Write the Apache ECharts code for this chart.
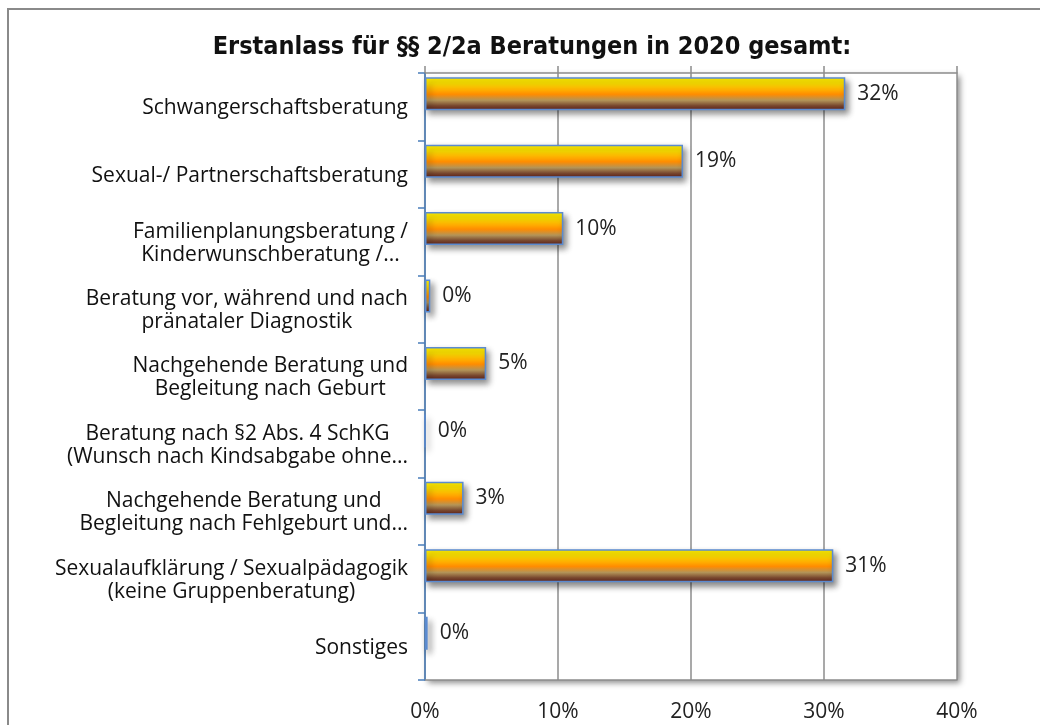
<!DOCTYPE html>
<html>
<head>
<meta charset="utf-8">
<script src="https://cdn.jsdelivr.net/npm/echarts@6/dist/echarts.min.js"></script>
<style>
  html, body { margin: 0; padding: 0; background: #fff; }
  #main { width: 1040px; height: 725px; }
</style>
</head>
<body>
<div id="main"></div>
<script>
// Kategorien (von oben nach unten)
var categories = [
  'Schwangerschaftsberatung',
  'Sexual-/ Partnerschaftsberatung',
  'Familienplanungsberatung /\nKinderwunschberatung /...',
  'Beratung vor, während und nach\npränataler Diagnostik',
  'Nachgehende Beratung und\nBegleitung nach Geburt',
  'Beratung nach §2 Abs. 4 SchKG\n(Wunsch nach Kindsabgabe ohne...',
  'Nachgehende Beratung und\nBegleitung nach Fehlgeburt und...',
  'Sexualaufklärung / Sexualpädagogik\n(keine Gruppenberatung)',
  'Sonstiges'
]
// Anteile in Prozent
var values = [31.6, 19.4, 10.4, 0.4, 4.6, 0, 2.9, 30.7, 0.2]
var xTicks = { min: 0, max: 40, interval: 10 }

var myChart = echarts.init(document.getElementById('main'))

var barGradient = new echarts.graphic.LinearGradient(0, 0, 0, 1, [
  { offset: 0, color: '#fff000' },
  { offset: 0.2, color: '#ffe000' },
  { offset: 0.36, color: '#ffb400' },
  { offset: 0.52, color: '#ff8c00' },
  { offset: 0.7, color: '#b39458' },
  { offset: 0.86, color: '#7a4a30' },
  { offset: 1, color: '#5c1e18' }
])

var option = {
  animation: false,
  textStyle: { fontFamily: 'Open Sans' },
  title: {
    text: 'Erstanlass für §§ 2/2a Beratungen in 2020 gesamt:',
    left: 527,
    textAlign: 'center',
    top: 30,
    textStyle: {
      fontFamily: "'DejaVu Sans Condensed', 'Roboto Condensed', 'Open Sans'",
      fontWeight: 'bold',
      fontSize: 25,
      color: '#111'
    }
  },
  graphic: [{
    type: 'rect',
    shape: { x: 8, y: 9, width: 1100, height: 800 },
    style: { fill: 'none', stroke: '#8a8a8a', lineWidth: 2 },
    z: 100
  }],
  grid: {
    left: 425,
    right: 83,
    top: 73,
    bottom: 45,
    show: true,
    borderWidth: 0,
    backgroundColor: '#fff',
    shadowColor: 'rgba(0,0,0,0.45)',
    shadowBlur: 6,
    shadowOffsetX: 3,
    shadowOffsetY: 3
  },
  xAxis: [
    {
      type: 'value',
      min: xTicks.min,
      max: xTicks.max,
      interval: xTicks.interval,
      axisLine: { show: true, lineStyle: { color: '#8c8c8c', width: 1.5 } },
      axisTick: { show: false },
      splitLine: { lineStyle: { color: '#8c8c8c', width: 1.5 } },
      axisLabel: { formatter: '{value}%', fontSize: 21, color: '#222', margin: 22 }
    },
    {
      type: 'value',
      position: 'top',
      min: xTicks.min,
      max: xTicks.max,
      interval: xTicks.interval,
      axisLine: { show: true, lineStyle: { color: '#8c8c8c', width: 1.5 } },
      axisTick: { show: true, length: 7, lineStyle: { color: '#8c8c8c', width: 1.5 } },
      splitLine: { show: false },
      axisLabel: { show: false }
    }
  ],
  yAxis: {
    type: 'category',
    inverse: true,
    data: categories,
    axisLine: { show: true, lineStyle: { color: '#4a7ebb', width: 1.5 } },
    axisTick: { show: true, length: 7, lineStyle: { color: '#4a7ebb', width: 1.5 } },
    axisLabel: {
      margin: 17,
      fontSize: 21,
      color: '#111',
      lineHeight: 23,
      formatter: function (v) {
        return v.split('\n').map(function (s) { return '{c|' + s + '}' }).join('\n')
      },
      rich: {
        c: { align: 'center', fontSize: 21, lineHeight: 23, color: '#111', fontFamily: 'Open Sans', padding: [3, 0, 0, 0] }
      }
    }
  },
  series: [
    {
      type: 'bar',
      data: values,
      barWidth: 33,
      barGap: '-21%',
      itemStyle: {
        color: barGradient,
        borderColor: '#5b8bd0',
        borderWidth: 1.5,
        shadowColor: 'rgba(0,0,0,0.45)',
        shadowBlur: 6,
        shadowOffsetX: 3,
        shadowOffsetY: 4
      },
      label: {
        show: true,
        position: 'right',
        distance: 12,
        fontSize: 21,
        color: '#222',
        formatter: function (p) { return Math.round(p.value) + '%' }
      }
    },
    {
      // leere Reihe, damit die Balken leicht nach oben versetzt stehen
      type: 'bar',
      data: values.map(function () { return '-' }),
      barWidth: 33,
      silent: true
    }
  ]
}

myChart.setOption(option)
</script>
</body>
</html>
